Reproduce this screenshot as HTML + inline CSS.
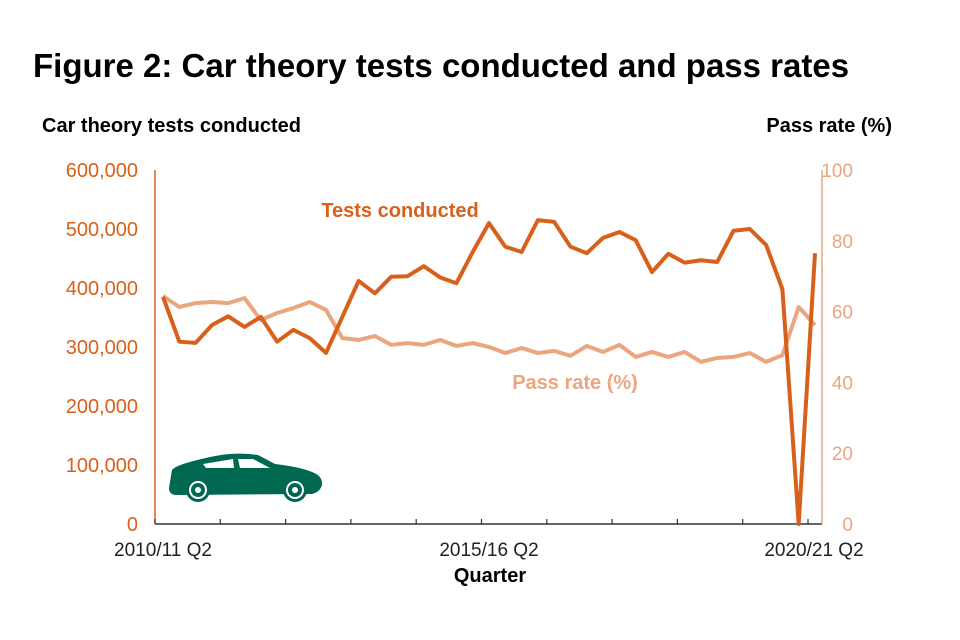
<!DOCTYPE html>
<html><head><meta charset="utf-8"><style>
body{margin:0;background:#fff;font-family:"Liberation Sans",Arial,sans-serif;}
svg{display:block}
</style></head><body>
<svg width="960" height="640" viewBox="0 0 960 640" id="chart">
<text x="33" y="77" font-size="33" font-weight="bold" fill="#000">Figure 2: Car theory tests conducted and pass rates</text>
<text x="42" y="132" font-size="20" font-weight="bold" fill="#000">Car theory tests conducted</text>
<text x="892" y="132" font-size="20" font-weight="bold" fill="#000" text-anchor="end">Pass rate (%)</text>
<text x="490" y="582" font-size="20" font-weight="bold" fill="#000" text-anchor="middle">Quarter</text>
<g id="axes"></g>
<g id="marks"></g>
<text x="400" y="217" font-size="20" font-weight="bold" fill="#d9601a" text-anchor="middle">Tests conducted</text>
<text x="575" y="389" font-size="20" font-weight="bold" fill="#eba57f" text-anchor="middle">Pass rate (%)</text>
<g fill="#006850">
<path d="M172,470 Q175,466 190,462 Q215,455 230,454 Q245,453 258,455 L275,464 Q300,467 312,472 Q323,476 322,485 Q320,492 312,494 L175,495 Q169,494 169,488 Z"/>
<path d="M203,464 L233,459 L234,468 L206,468 Z" fill="#fff"/>
<path d="M238,459 L253,459 L270,468 L240,468 Z" fill="#fff"/>
<circle cx="198" cy="490" r="12" fill="#006850"/><circle cx="198" cy="490" r="9" fill="#fff"/><circle cx="198" cy="490" r="7" fill="#006850"/><circle cx="198" cy="490" r="3" fill="#fff"/>
<circle cx="295" cy="490" r="12" fill="#006850"/><circle cx="295" cy="490" r="9" fill="#fff"/><circle cx="295" cy="490" r="7" fill="#006850"/><circle cx="295" cy="490" r="3" fill="#fff"/>
</g>
</svg>
<script>
const tests=[385000,309000,307000,337000,352000,334000,351000,309000,329000,315000,290000,351000,412000,391000,419000,420000,437000,418000,408000,461000,510000,470000,461000,515000,512000,470000,459000,485000,495000,481000,427000,458000,443000,447000,444000,497000,500000,473000,398000,0,459000];
const passRate=[64.4,61.3,62.4,62.7,62.4,63.8,57.6,59.6,61.0,62.7,60.5,52.5,52.0,53.1,50.6,51.1,50.6,52.0,50.3,51.1,50.0,48.3,49.7,48.3,48.9,47.5,50.3,48.6,50.6,47.2,48.6,47.2,48.6,45.8,46.9,47.2,48.3,45.8,47.7,61.3,56.2];
const leftTicks=[0,100000,200000,300000,400000,500000,600000];
const rightTicks=[0,20,40,60,80,100];
const xLabels=[[0,"2010/11 Q2"],[20,"2015/16 Q2"],[40,"2020/21 Q2"]];
const NS="http://www.w3.org/2000/svg";
const X0=163,DX=16.3,Y0=524,YT=170;
const x=i=>X0+i*DX;
const yL=v=>Y0-(v/600000)*(Y0-YT);
const yR=v=>Y0-(v/100)*(Y0-YT);
function mk(tag,attrs,parent,txt){const e=document.createElementNS(NS,tag);for(const k in attrs)e.setAttribute(k,attrs[k]);if(txt!==undefined)e.textContent=txt;parent.appendChild(e);return e;}
const axes=document.getElementById('axes'),marks=document.getElementById('marks');
let e;
e=mk('line',{x1:155,y1:Y0,x2:822,y2:Y0,stroke:'#333','stroke-width':1.5},axes);


e=mk('line',{x1:155,y1:YT,x2:155,y2:Y0,stroke:'#d9601a','stroke-width':1.5},axes);


e=mk('line',{x1:822,y1:YT,x2:822,y2:Y0,stroke:'#eba57f','stroke-width':1.5},axes);


for(let k=0;k<=10;k++){const tx=155+k*65.3;
e=mk('line',{x1:tx,y1:Y0,x2:tx,y2:Y0-5,stroke:'#333','stroke-width':1.2},axes);

}
leftTicks.forEach(v=>{
e=mk('text',{x:138,y:yL(v)+7,'font-size':20,fill:'#d9601a','text-anchor':'end'},axes,v.toLocaleString('en-GB'));

});
rightTicks.forEach(v=>{
e=mk('text',{x:853,y:yR(v)+7,'font-size':19,fill:'#eba57f','text-anchor':'end'},axes,String(v));

});
xLabels.forEach(([i,t])=>{
e=mk('text',{x:x(i)+(i==40?-1:0),y:556,'font-size':19,fill:'#222','text-anchor':'middle'},axes,t);

});
e=mk('polyline',{points:passRate.map((v,i)=>x(i)+','+yR(v)).join(' '),fill:'none',stroke:'#eba57f','stroke-width':4,'stroke-linejoin':'round'},marks);


e=mk('polyline',{points:tests.map((v,i)=>x(i)+','+yL(v)).join(' '),fill:'none',stroke:'#d9601a','stroke-width':4,'stroke-linejoin':'round'},marks);


</script>
</body></html>
